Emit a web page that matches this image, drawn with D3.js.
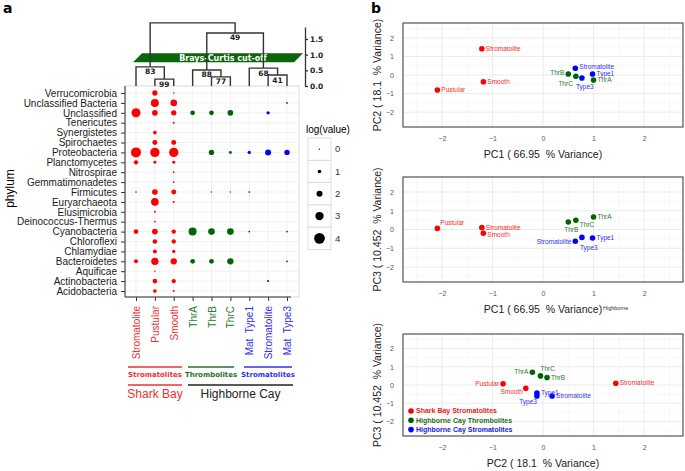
<!DOCTYPE html>
<html>
<head>
<meta charset="utf-8">
<script src="https://cdn.jsdelivr.net/npm/d3@7"></script>
<style>
  body { margin: 0; background: #fff; }
  svg { display: block; font-family: "Liberation Sans", Arial, sans-serif; }
</style>
</head>
<body>
<svg id="chart"></svg>
<script>
// ---------- data ----------
const phyla = ["Verrucomicrobia", "Unclassified Bacteria", "Unclassified ", "Tenericutes", "Synergistetes",
  "Spirochaetes", "Proteobacteria", "Planctomycetes", "Nitrospirae", "Gemmatimonadetes", "Firmicutes",
  "Euryarchaeota", "Elusimicrobia", "Deinococcus-Thermus", "Cyanobacteria", "Chloroflexi", "Chlamydiae",
  "Bacteroidetes", "Aquificae", "Actinobacteria", "Acidobacteria"];

const samples = ["Stromatolite", "Pustular", "Smooth", "ThrA", "ThrB", "ThrC", "Mat  Type1", "Stromatolite", "Mat  Type3"];
const sampleGroup = [0, 0, 0, 1, 1, 1, 2, 2, 2];
const groupNames = ["Shark Bay Stromatolites", "Highborne Cay Thrombolites", "Highborne Cay Stromatolites"];

// log(value), one row per phylum, one entry per sample (null = not found)
const logValues = [
  [null, 1.7, 0.15, null, null, null, null, null, null],
  [null, 2.85, 2.28, null, null, null, null, null, 0.16],
  [3.28, 1.86, 1.72, 1.43, 1.43, 1.86, null, 0.87, null],
  [null, null, 0.3, null, null, null, null, null, null],
  [null, 1.01, null, null, null, null, null, null, null],
  [null, 1.57, 1.57, null, null, null, null, null, null],
  [3.7, 3.42, 3.42, null, 1.72, 0.72, 0.87, 2.0, 1.72],
  [1.29, 0.72, 0.72, null, null, null, null, null, null],
  [null, null, 0.16, null, null, null, null, null, null],
  [null, null, 0.16, null, null, null, null, null, null],
  [0.16, 1.86, 1.57, null, 0.05, 0.05, 0.16, null, null],
  [null, 2.71, 0.3, null, null, null, null, null, null],
  [null, 0.3, null, null, null, null, null, null, null],
  [null, 0.16, null, null, null, null, null, null, null],
  [1.43, 1.86, 1.29, 2.85, 2.28, 2.28, 0.16, null, 0.16],
  [null, 1.43, 1.29, null, null, null, null, null, null],
  [null, 1.15, 0.87, null, null, null, null, null, null],
  [1.15, 2.57, 2.14, 1.43, 1.43, 2.14, null, null, 0.16],
  [null, 0.05, null, null, null, null, null, null, null],
  [null, 1.43, 1.29, null, null, null, null, 0.3, null],
  [null, 1.01, 0.3, null, null, null, null, null, null]
];
const legendValues = [0, 1, 2, 3, 4];

// Bray-Curtis clustering: leaves are sample indices, nodes by id
const dendroMerges = [
  { id: "n99", l: 1, r: 2, h: 0.22, support: "99" },
  { id: "n83", l: 0, r: "n99", h: 0.61, support: "83" },
  { id: "n77", l: 4, r: 5, h: 0.29, support: "77" },
  { id: "n88", l: 3, r: "n77", h: 0.51, support: "88" },
  { id: "n41", l: 7, r: 8, h: 0.35, support: "41" },
  { id: "n68", l: 6, r: "n41", h: 0.57, support: "68" },
  { id: "n49", l: "n88", r: "n68", h: 1.69, support: "49" },
  { id: "root", l: "n83", r: "n49", h: 2.01, support: "" }
];
const cutOff = 0.9;
const heightTicks = [0, 0.5, 1.0, 1.5];

// PCA scores read per panel, same sample order as above
const pcaNames = ["Stromatolite", "Pustular", "Smooth", "ThrA", "ThrB", "ThrC", "Type1", "Stromatolite", "Type3"];
const pc1vsPc2 = [[-1.21, 1.41], [-2.09, -0.81], [-1.18, -0.36], [1.0, -0.27], [0.5, 0.05], [0.65, -0.07], [0.98, 0.05], [0.64, 0.36], [0.77, -0.16]];
const pc1vsPc3 = [[-1.21, 0.1], [-2.09, 0.06], [-1.18, -0.2], [1.0, 0.67], [0.5, 0.4], [0.65, 0.49], [0.98, -0.45], [0.64, -0.63], [0.77, -0.42]];
const pc2vsPc3 = [[1.44, 0.1], [-0.79, 0.07], [-0.34, -0.18], [-0.21, 0.7], [0.08, 0.41], [-0.05, 0.5], [-0.12, -0.44], [0.18, -0.6], [-0.12, -0.6]];
const pcaTicks = [-2, -1, 0, 1, 2];

// ---------- layout ----------
const width = 685, height = 471;
const colors = ["#ff0000", "#006400", "#0000ff"];
const labelColors = ["#f03030", "#2a7a2a", "#3030ee"];

const svg = d3.select("#chart").attr("width", width).attr("height", height);

// panel letters
svg.append("text").attr("x", 3).attr("y", 13).attr("font-size", 14).attr("font-weight", "bold")
  .attr("font-family", "DejaVu Sans").text("a");
svg.append("text").attr("x", 371).attr("y", 13).attr("font-size", 14).attr("font-weight", "bold")
  .attr("font-family", "DejaVu Sans").text("b");

// ===== panel a : bubble plot =====
const plot = { left: 125, right: 299, top: 86, bottom: 297 };
const x = d3.scalePoint().domain(d3.range(samples.length)).range([136, 287]);
const y = d3.scalePoint().domain(phyla).range([93, 291]);
const r = d3.scaleLinear().domain([0, 4]).range([0.65, 5.35]);

const gA = svg.append("g");

// grid
gA.selectAll(".vgrid").data(x.domain()).enter().append("line")
  .attr("x1", d => x(d)).attr("x2", d => x(d)).attr("y1", plot.top).attr("y2", plot.bottom)
  .attr("stroke", "#ebebeb").attr("stroke-width", 0.7);
gA.selectAll(".hgrid").data(phyla).enter().append("line")
  .attr("x1", plot.left).attr("x2", plot.right).attr("y1", d => y(d)).attr("y2", d => y(d))
  .attr("stroke", "#ebebeb").attr("stroke-width", 0.7);
gA.append("rect").attr("x", plot.left).attr("y", plot.top)
  .attr("width", plot.right - plot.left).attr("height", plot.bottom - plot.top)
  .attr("fill", "none").attr("stroke", "#cfcfcf").attr("stroke-width", 0.8);

// axes
const yAxis = gA.append("g").attr("transform", `translate(${plot.left},0)`)
  .call(d3.axisLeft(y).tickSize(4).tickSizeOuter(0).tickPadding(4));
yAxis.select(".domain").remove();
yAxis.selectAll("text").attr("font-size", 10).attr("fill", "#1a1a1a")
  .attr("font-family", "Liberation Sans, Arial, sans-serif");
yAxis.selectAll("line").attr("stroke", "#333");

const xAxis = gA.append("g").attr("transform", `translate(0,${plot.bottom})`)
  .call(d3.axisBottom(x).tickSize(4).tickSizeOuter(0).tickFormat(i => samples[i]));
xAxis.select(".domain").remove();
xAxis.selectAll("line").attr("stroke", "#333");
xAxis.selectAll("text")
  .attr("font-size", 10).attr("font-family", "Liberation Sans, Arial, sans-serif")
  .attr("fill", i => labelColors[sampleGroup[i]])
  .attr("text-anchor", "end")
  .attr("transform", "rotate(-90)")
  .attr("x", -9).attr("y", 0).attr("dy", "0.35em")
  .style("white-space", "pre");

gA.append("line").attr("x1", plot.left).attr("x2", plot.left).attr("y1", plot.top).attr("y2", plot.bottom)
  .attr("stroke", "#333").attr("stroke-width", 1);
gA.append("line").attr("x1", plot.left).attr("x2", 291).attr("y1", plot.bottom).attr("y2", plot.bottom)
  .attr("stroke", "#333").attr("stroke-width", 1);

gA.append("text").attr("transform", `translate(14,${(plot.top + plot.bottom) / 2 - 3}) rotate(-90)`)
  .attr("text-anchor", "middle").attr("font-size", 12).text("phylum");

// bubbles
const cells = [];
logValues.forEach((row, i) => row.forEach((v, j) => {
  if (v !== null) cells.push({ phylum: phyla[i], sample: j, value: v });
}));
gA.selectAll(".bubble").data(cells).enter().append("circle")
  .attr("class", "bubble")
  .attr("cx", d => x(d.sample)).attr("cy", d => y(d.phylum))
  .attr("r", d => r(d.value))
  .attr("fill", d => colors[sampleGroup[d.sample]]);

// size legend
gA.append("text").attr("x", 306).attr("y", 133).attr("font-size", 10).text("log(value)");
const keyH = 22.3;
const keys = gA.selectAll(".key").data(legendValues).enter().append("g")
  .attr("transform", (d, i) => `translate(308,${138 + i * keyH})`);
keys.append("rect").attr("width", 23).attr("height", keyH).attr("fill", "#fff")
  .attr("stroke", "#d6d6d6").attr("stroke-width", 0.8);
keys.append("circle").attr("cx", 11.5).attr("cy", keyH / 2).attr("r", d => r(d)).attr("fill", "#000");
keys.append("text").attr("x", 27).attr("y", keyH / 2).attr("dy", "0.35em")
  .attr("font-size", 9.5).attr("fill", "#333").text(d => d);

// group brackets under the sample labels
const brackets = [
  { from: 128, to: 182, color: labelColors[0], text: "Stromatolites" },
  { from: 188, to: 234, color: "#2a6e2a", text: "Thrombolites" },
  { from: 244, to: 292, color: labelColors[2], text: "Stromatolites" }
];
brackets.forEach(b => {
  gA.append("line").attr("x1", b.from).attr("x2", b.to).attr("y1", 367).attr("y2", 367)
    .attr("stroke", b.color).attr("stroke-width", 1.3);
  gA.append("text").attr("x", (b.from + b.to) / 2).attr("y", 376.5).attr("text-anchor", "middle")
    .attr("font-size", 7).attr("font-weight", "bold").attr("font-family", "DejaVu Sans")
    .attr("fill", b.color).text(b.text);
});
[{ from: 128, to: 182, color: labelColors[0], text: "Shark Bay" },
 { from: 188, to: 293, color: "#222", text: "Highborne Cay" }].forEach(b => {
  gA.append("line").attr("x1", b.from).attr("x2", b.to).attr("y1", 385).attr("y2", 385)
    .attr("stroke", b.color).attr("stroke-width", 1.3);
  gA.append("text").attr("x", (b.from + b.to) / 2).attr("y", 398).attr("text-anchor", "middle")
    .attr("font-size", 12).attr("fill", b.color).text(b.text);
});

// ===== dendrogram =====
const hScale = d3.scaleLinear().domain([0, 1.88]).range([plot.top, 27]);
const nodes = {};
const nodeX = k => (typeof k === "number" ? x(k) : nodes[k].x);
const nodeY = k => (typeof k === "number" ? plot.top : nodes[k].y);
const gD = svg.append("g");

// cut-off band
const cy = hScale(cutOff);
gD.append("polygon")
  .attr("points", `133,${cy + 4.6} 142,${cy - 4.6} 303,${cy - 4.6} 294,${cy + 4.6}`)
  .attr("fill", "#0b650b");
gD.append("text").attr("x", 223).attr("y", cy).attr("dy", "0.36em").attr("text-anchor", "middle")
  .attr("font-size", 8).attr("font-weight", "bold").attr("font-family", "DejaVu Sans")
  .attr("fill", "#fff").text("Brays-Curtis cut-off");

dendroMerges.forEach(m => {
  const x1 = nodeX(m.l), x2 = nodeX(m.r), yy = hScale(m.h);
  nodes[m.id] = { x: (x1 + x2) / 2, y: yy };
  gD.append("path")
    .attr("d", `M${x1},${nodeY(m.l)}V${yy}H${x2}V${nodeY(m.r)}`)
    .attr("fill", "none").attr("stroke", "#333").attr("stroke-width", 1.4);
  if (m.support) {
    gD.append("text").attr("x", (x1 + x2) / 2).attr("y", yy + 7.5).attr("text-anchor", "middle")
      .attr("font-size", 7.5).attr("font-weight", "bold").attr("font-family", "DejaVu Sans")
      .attr("fill", "#222").text(m.support);
  }
});

const hAxis = gD.append("g").attr("transform", "translate(305,0)")
  .call(d3.axisRight(hScale).tickValues(heightTicks).tickFormat(d3.format(".1f")).tickSize(3).tickSizeOuter(0));
hAxis.select(".domain").attr("stroke", "#333").attr("stroke-width", 1.3);
hAxis.selectAll("line").attr("stroke", "#333").attr("stroke-width", 1.3);
hAxis.selectAll("text").attr("font-size", 7.5).attr("font-weight", "bold").attr("font-family", "DejaVu Sans")
  .attr("fill", "#222").attr("x", 5);

// ===== panel b : PCA =====
const pcaX = d3.scaleLinear().domain([-2.77, 2.77]).range([403, 683]);

function drawPCA(top, bottom, pts, xTitle, yTitle, placement) {
  const g = svg.append("g");
  const py = d3.scaleLinear().domain([-2.8, 2.8]).range([bottom, top]);
  const minor = [-2.5, -1.5, -0.5, 0.5, 1.5, 2.5];
  g.selectAll(".mx").data(minor).enter().append("line")
    .attr("x1", d => pcaX(d)).attr("x2", d => pcaX(d)).attr("y1", top).attr("y2", bottom)
    .attr("stroke", "#f4f4f4").attr("stroke-width", 0.6);
  g.selectAll(".my").data(minor).enter().append("line")
    .attr("x1", 403).attr("x2", 683).attr("y1", d => py(d)).attr("y2", d => py(d))
    .attr("stroke", "#f4f4f4").attr("stroke-width", 0.6);
  g.selectAll(".gx").data(pcaTicks).enter().append("line")
    .attr("x1", d => pcaX(d)).attr("x2", d => pcaX(d)).attr("y1", top).attr("y2", bottom)
    .attr("stroke", "#e6e6e6").attr("stroke-width", 0.8);
  g.selectAll(".gy").data(pcaTicks).enter().append("line")
    .attr("x1", 403).attr("x2", 683).attr("y1", d => py(d)).attr("y2", d => py(d))
    .attr("stroke", "#e6e6e6").attr("stroke-width", 0.8);
  g.append("rect").attr("x", 403).attr("y", top).attr("width", 280).attr("height", bottom - top)
    .attr("fill", "none").attr("stroke", "#444").attr("stroke-width", 1.1);

  const ax = g.append("g").attr("transform", `translate(0,${bottom})`)
    .call(d3.axisBottom(pcaX).tickValues(pcaTicks).tickFormat(d3.format("d")).tickSize(0).tickPadding(9));
  ax.select(".domain").remove();
  const ay = g.append("g").attr("transform", "translate(403,0)")
    .call(d3.axisLeft(py).tickValues(pcaTicks).tickFormat(d3.format("d")).tickSize(0).tickPadding(9));
  ay.select(".domain").remove();
  g.selectAll(".tick text").attr("font-size", 7).attr("fill", "#555")
    .attr("font-family", "Liberation Sans, Arial, sans-serif");

  g.append("text").attr("x", 543).attr("y", bottom + 31).attr("text-anchor", "middle")
    .attr("font-size", 10.5).attr("fill", "#222").style("white-space", "pre").text(xTitle);
  g.append("text").attr("transform", `translate(377,${(top + bottom) / 2}) rotate(-90)`)
    .attr("text-anchor", "middle").attr("dy", "0.35em")
    .attr("font-size", 10.5).attr("fill", "#222").style("white-space", "pre").text(yTitle);

  g.selectAll(".pt").data(pts).enter().append("circle")
    .attr("cx", d => pcaX(d[0])).attr("cy", d => py(d[1])).attr("r", 2.8)
    .attr("fill", (d, i) => colors[sampleGroup[i]]);
  g.selectAll(".lbl").data(pts).enter().append("text")
    .attr("x", (d, i) => pcaX(d[0]) + placement[i][0])
    .attr("y", (d, i) => py(d[1]) + placement[i][1])
    .attr("dy", "0.35em")
    .attr("text-anchor", (d, i) => placement[i][2])
    .attr("font-size", 6.5)
    .attr("fill", (d, i) => labelColors[sampleGroup[i]])
    .text((d, i) => pcaNames[i]);
  return { g, py };
}

// label offsets [dx, dy, anchor] per sample
const place1 = [[4, 0, "start"], [4, 0, "start"], [4, 0, "start"], [4, 0, "start"], [-4, -1, "end"],
  [-3, 7, "end"], [4, 0, "start"], [4, -2, "start"], [-6, 9, "start"]];
const place2 = [[4, 0, "start"], [3, -6, "start"], [4, 1, "start"], [4, 0, "start"], [-4, 8, "start"],
  [4, 4, "start"], [4, 0, "start"], [-4, 0, "end"], [-2, 10, "start"]];
const place3 = [[4, 0, "start"], [-4, 0, "end"], [-3, 3, "end"], [-4, -1, "end"], [4, 0, "start"],
  [0, -7, "start"], [4, 0, "start"], [4, 0, "start"], [0, 6, "end"]];

drawPCA(23, 127, pc1vsPc2, "PC1 ( 66.95  % Variance)", "PC2 ( 18.1  % Variance)", place1);
drawPCA(177, 282, pc1vsPc3, "PC1 ( 66.95  % Variance)", "PC3 ( 10.452  % Variance)", place2);
const p3 = drawPCA(334, 436, pc2vsPc3, "PC2 ( 18.1  % Variance)", "PC3 ( 10.452  % Variance)", place3);

svg.append("text").attr("x", 603).attr("y", 310).attr("font-size", 5.5).attr("fill", "#333").text("Highborne");

// legend inside the third PCA panel
const leg = p3.g.selectAll(".leg").data(groupNames).enter().append("g")
  .attr("transform", (d, i) => `translate(411,${411 + i * 9.3})`);
leg.append("circle").attr("r", 2.8).attr("fill", (d, i) => colors[i]);
leg.append("text").attr("x", 5).attr("dy", "0.35em").attr("font-size", 7).attr("font-weight", "bold")
  .attr("fill", (d, i) => ["#e52222", "#1f6b1f", "#2323dd"][i]).text(d => d);
</script>
</body>
</html>
